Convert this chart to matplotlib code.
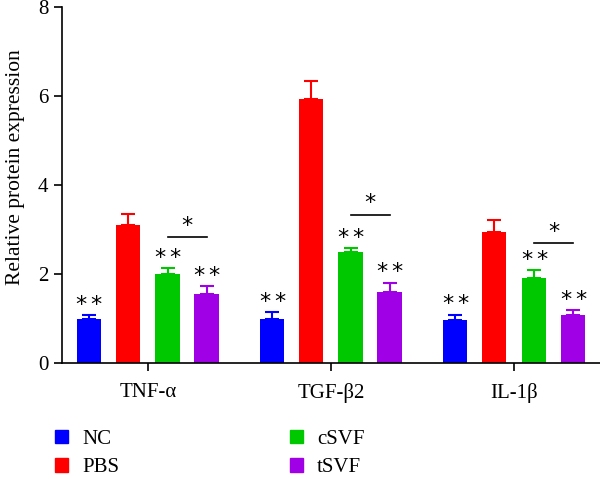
import numpy as np
import matplotlib
matplotlib.use("Agg")
import matplotlib.pyplot as plt
from matplotlib.patches import Patch

plt.rcParams['font.family'] = ['Liberation Serif', 'DejaVu Serif']

# data
cytokines = ['TNF-α', 'TGF-β2', 'IL-1β']
groups = ['NC', 'PBS', 'cSVF', 'tSVF']
colors = ['#0000FF', '#FF0000', '#00C800', '#A000E6']
means = {
    'NC':   [1.00, 1.00, 0.97],
    'PBS':  [3.10, 5.93, 2.94],
    'cSVF': [2.00, 2.49, 1.91],
    'tSVF': [1.55, 1.59, 1.08],
}
errs = {
    'NC':   [0.07, 0.15, 0.12],
    'PBS':  [0.25, 0.41, 0.27],
    'cSVF': [0.13, 0.10, 0.19],
    'tSVF': [0.18, 0.22, 0.12],
}
n_stars = {
    'NC':   [2, 2, 2],
    'PBS':  [0, 0, 0],
    'cSVF': [2, 2, 2],
    'tSVF': [2, 2, 2],
}
# cSVF vs tSVF bracket heights
bracket_y = [2.83, 3.33, 2.69]

fig = plt.figure(figsize=(6.0, 4.79), dpi=100)
ax = fig.add_axes([0.103, 0.242, 0.897, 0.743])

x = np.arange(len(cytokines))
offsets = [-0.322, -0.109, 0.109, 0.322]
width = 0.135
star_kw = dict(family='DejaVu Sans', fontsize=16, ha='center', va='center',
               textcoords='offset points')


def put_stars(xc, yc, n):
    # asterisks drawn one by one so the spacing stays tight
    shifts = [0] if n == 1 else [-5.4, 5.4]
    for dx in shifts:
        ax.annotate('*', (xc, yc), xytext=(dx, -2), **star_kw)


for g, c, off in zip(groups, colors, offsets):
    xs = x + off
    ax.bar(xs, means[g], width, color=c, zorder=2)
    ax.errorbar(xs, means[g], yerr=[np.zeros(3), errs[g]], fmt='none',
                ecolor=c, elinewidth=1.5, capsize=4.7, capthick=1.5, zorder=1)
    for xi, m, e, n in zip(xs, means[g], errs[g], n_stars[g]):
        if n:
            put_stars(xi, m + e + 0.29, n)

for i, by in enumerate(bracket_y):
    x1 = x[i] + offsets[2]
    x2 = x[i] + offsets[3]
    ax.plot([x1, x2], [by, by], color='black', lw=1.2)
    put_stars((x1 + x2) / 2, by + 0.32, 1)

ax.set_xlim(-0.47, 2.47)
ax.set_ylim(0, 8)
ax.set_yticks([0, 2, 4, 6, 8])
ax.set_xticks(x)
ax.set_xticklabels(cytokines)
ax.set_ylabel('Relative protein expression', fontsize=15.5)
ax.yaxis.set_label_coords(-0.068, 0.55)
ax.tick_params(axis='both', labelsize=15, width=1.2, length=6)
ax.tick_params(axis='x', pad=8)
for s in ['top', 'right']:
    ax.spines[s].set_visible(False)
for s in ['left', 'bottom']:
    ax.spines[s].set_linewidth(1.2)

handles = [Patch(color=c, label=g) for g, c in zip(groups, colors)]
fig.legend(handles=handles, ncol=2, loc='upper left',
           bbox_to_anchor=(0.092, 0.103), frameon=False, fontsize=15,
           handlelength=0.62, handleheight=0.62, columnspacing=8.2,
           labelspacing=0.45, handletextpad=0.67, borderpad=0,
           borderaxespad=0)

plt.savefig('out.png', dpi=100)
